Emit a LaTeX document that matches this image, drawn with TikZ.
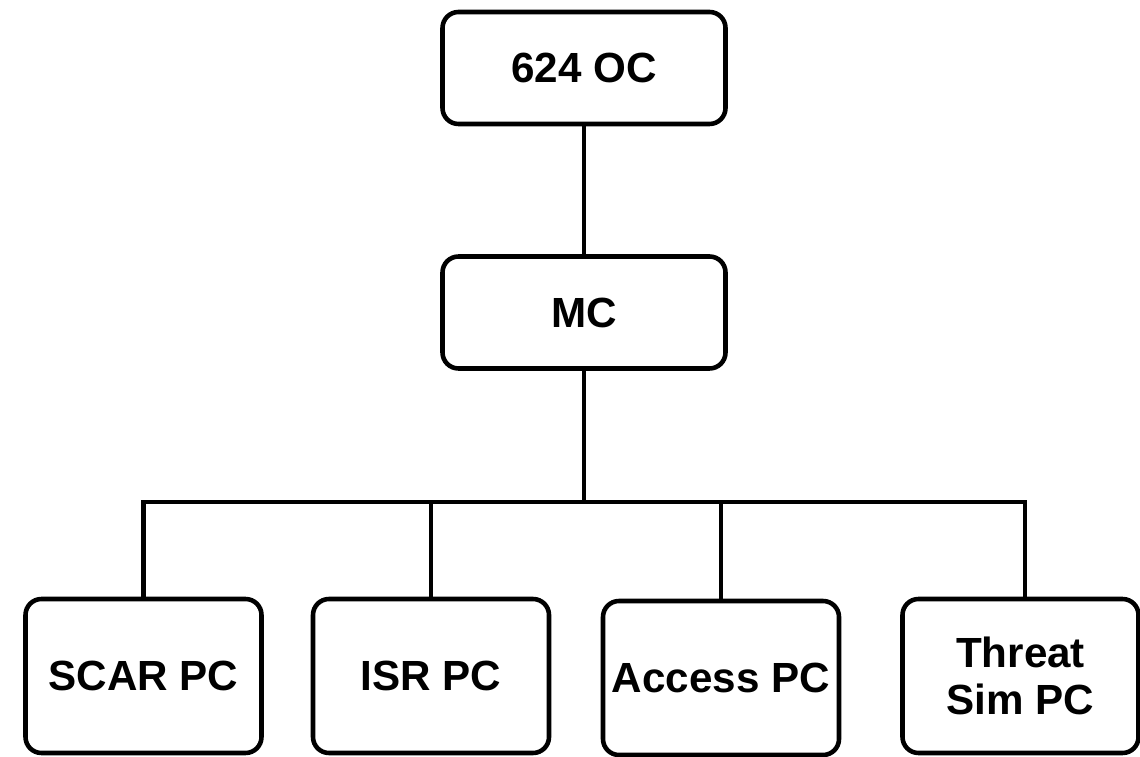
\documentclass[tikz,border=0pt]{standalone}
\usepackage{fontspec}
\setmainfont{Liberation Sans}
\begin{document}
\begin{tikzpicture}[every node/.style={font=\bfseries\fontsize{24}{27}\selectfont},
  unit/.style={draw, line width=2.6pt, rounded corners=0.32cm, align=center, inner sep=0pt},
  topunit/.style={unit, minimum width=5.66cm, minimum height=2.24cm},
  pcunit/.style={unit, minimum width=4.72cm, minimum height=3.08cm},
  link/.style={line width=2.6pt}]
\useasboundingbox (0,0) rectangle (22.8,15.12);
\node[topunit] (oc) at (11.68,13.76) {624 OC};
\node[topunit] (mc) at (11.68,8.87) {MC};
\node[pcunit] (scar) at (2.87,1.6) {SCAR PC};
\node[pcunit] (isr) at (8.62,1.6) {ISR PC};
\node[pcunit] (access) at (14.42,1.56) {Access PC};
\node[pcunit] (threat) at (20.41,1.6) {Threat\\Sim PC};
\coordinate (bus) at (11.68,5.08);
\coordinate (tap) at ([xshift=0.09cm]threat.north);
\draw[link] (oc) -- (mc);
\draw[link] (mc) -- (bus);
\draw[link, line cap=rect] (scar.north |- bus) -- (tap |- bus);
\draw[link] (scar.north |- bus) -- (scar.north);
\draw[link] (isr.north |- bus) -- (isr.north);
\draw[link] (access.north |- bus) -- (access.north);
\draw[link] (tap |- bus) -- (tap);
\end{tikzpicture}
\end{document}
